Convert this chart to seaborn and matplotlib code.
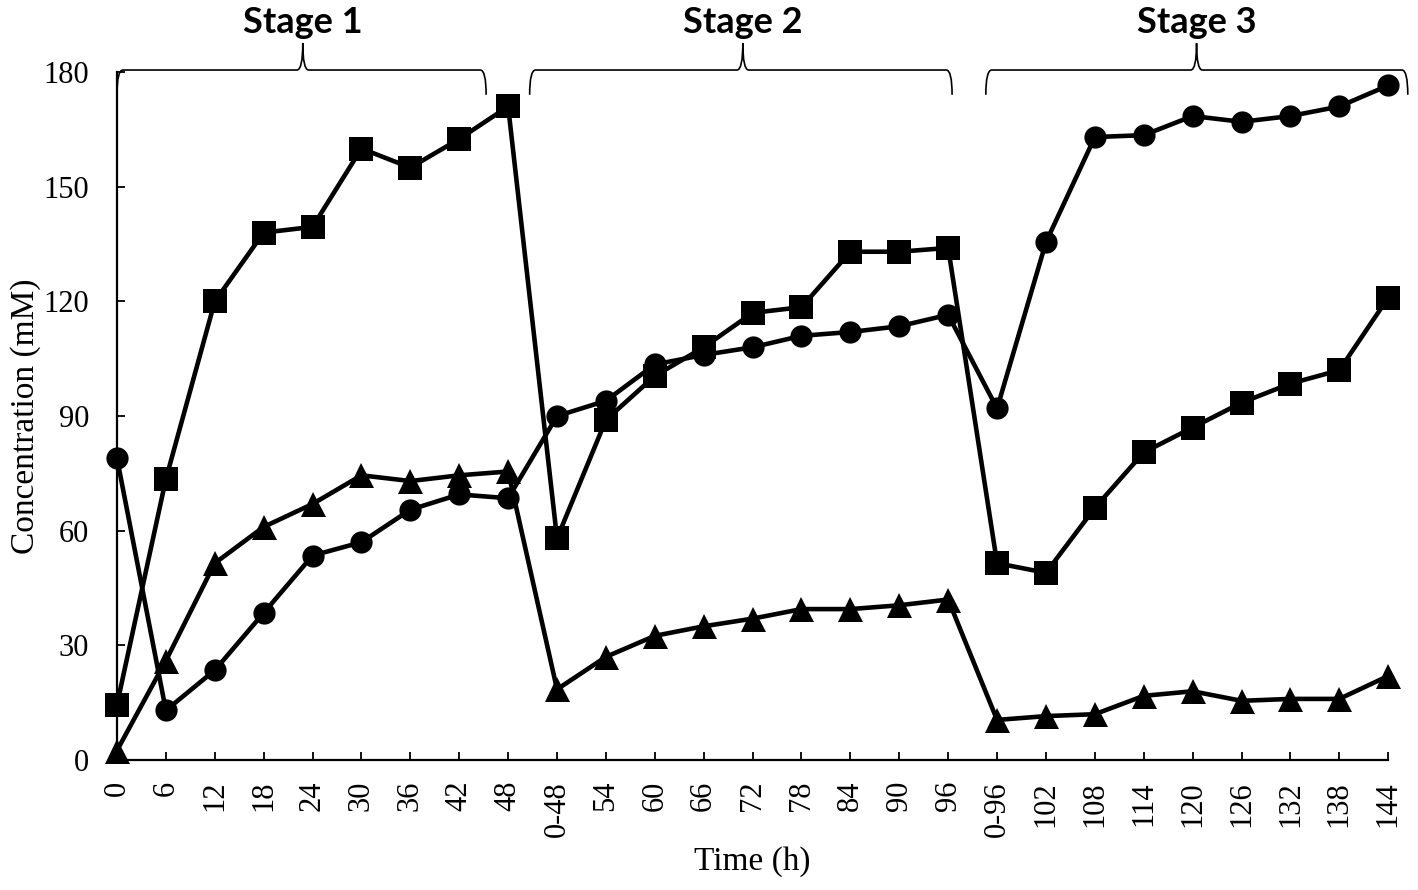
import seaborn as sns
import matplotlib.pyplot as plt
import matplotlib.transforms as mtransforms
from matplotlib.path import Path
from matplotlib.patches import PathPatch
import numpy as np
import pandas as pd

# Sampling times (three feeding stages)
time_labels = ["0", "6", "12", "18", "24", "30", "36", "42", "48",
               "0-48", "54", "60", "66", "72", "78", "84", "90", "96",
               "0-96", "102", "108", "114", "120", "126", "132", "138", "144"]

# Concentrations (mM)
squares = [14.5, 73.5, 120, 138, 139.5, 160, 155, 162.5, 171,
           58, 89, 100.5, 108, 117, 118.5, 133, 133, 134,
           51.5, 49, 66, 80.5, 87, 93.5, 98.5, 102, 121]
circles = [79, 13, 23.5, 38.5, 53.5, 57, 65.5, 69.5, 68.5,
           90, 94, 103.5, 106, 108, 111, 112, 113.5, 116.5,
           92, 135.5, 163, 163.5, 168.5, 167, 168.5, 171, 176.5]
triangles = [2.5, 26, 51.5, 61, 67, 74.5, 73, 74.5, 75.5,
             18.5, 27, 32.5, 35, 37, 39.5, 39.5, 40.5, 42,
             10.5, 11.5, 12, 16.8, 18, 15.5, 16, 16, 22]

stage_names = ["Stage 1", "Stage 2", "Stage 3"]
# bracket spans in category index units (start, end, tip)
stage_spans = [(0.0, 7.55, 3.8), (8.44, 17.08, 12.8), (17.77, 26.4, 22.08)]

pos = np.arange(len(time_labels))
df = pd.DataFrame({"pos": pos, "sq": squares, "ci": circles, "tr": triangles})

sns.set_style("ticks")
plt.rcParams["font.family"] = ["Liberation Serif", "DejaVu Serif"]
plt.rcParams["text.color"] = "black"
plt.rcParams["axes.labelcolor"] = "black"

fig = plt.figure(figsize=(14.18, 8.9), dpi=100)
ax = fig.add_axes([0.0825, 0.146, 0.8965, 0.773])

common = dict(color="black", linewidth=3.3, markeredgecolor="black",
              markeredgewidth=0, clip_on=False, sort=False, legend=False)
sns.lineplot(data=df, x="pos", y="tr", marker="^", markersize=18, ax=ax, **common)
sns.lineplot(data=df, x="pos", y="ci", marker="o", markersize=16, ax=ax, **common)
sns.lineplot(data=df, x="pos", y="sq", marker="s", markersize=17, ax=ax, **common)

ax.set_xlim(0, len(time_labels) - 1)
ax.set_ylim(0, 180)
ax.set_yticks(np.arange(0, 181, 30))
ax.set_xticks(pos)
ax.set_xticklabels(time_labels, rotation=90)

sns.despine(ax=ax)
for s in ["left", "bottom"]:
    ax.spines[s].set_linewidth(1.6)
    ax.spines[s].set_color("black")
ax.tick_params(axis="both", direction="in", length=6, width=1.3,
               labelsize=22, colors="black")
ax.tick_params(axis="y", pad=20)
ax.tick_params(axis="x", pad=15)

ax.set_xlabel("Time (h)", fontsize=24, labelpad=7, color="black")
ax.set_ylabel("Concentration (mM)", fontsize=24, labelpad=2, color="black")

# Curly braces + stage labels above the plot
trans = mtransforms.blended_transform_factory(ax.transData, ax.transAxes)
yb, yt, yp = 0.967, 1.003, 1.042
dx = 0.12
for (x0, x1, xm), name in zip(stage_spans, stage_names):
    verts = [(x0, yb), (x0, yt), (x0 + dx, yt),
             (xm - dx, yt),
             (xm, yt), (xm, yp),
             (xm, yt), (xm + dx, yt),
             (x1 - dx, yt),
             (x1, yt), (x1, yb)]
    codes = [Path.MOVETO, Path.CURVE3, Path.CURVE3,
             Path.LINETO,
             Path.CURVE3, Path.CURVE3,
             Path.CURVE3, Path.CURVE3,
             Path.LINETO,
             Path.CURVE3, Path.CURVE3]
    patch = PathPatch(Path(verts, codes), transform=trans, fill=False,
                      edgecolor="black", linewidth=1.2, clip_on=False)
    ax.add_patch(patch)
    ax.text(xm, 1.072, name, transform=trans, ha="center", va="center",
            fontsize=26, fontweight="bold", color="black",
            family=["Lato", "DejaVu Sans"])

fig.savefig("out.png", dpi=100)
